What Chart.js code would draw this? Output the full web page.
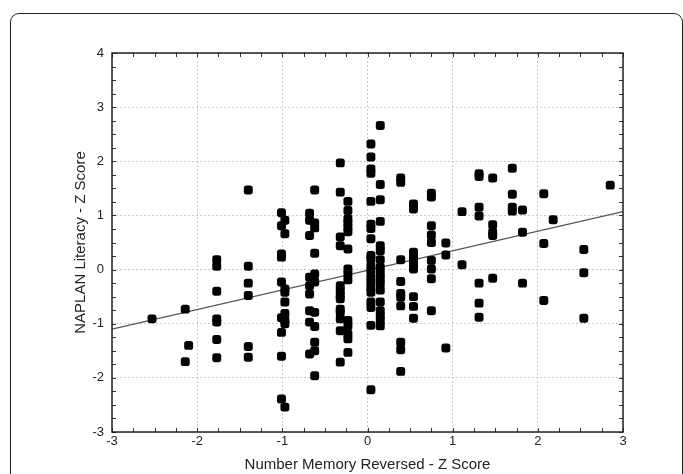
<!DOCTYPE html>
<html>
<head>
<meta charset="utf-8">
<script src="https://cdn.jsdelivr.net/npm/chart.js@4.4.0/dist/chart.umd.min.js"></script>
<style>
  body { margin: 0; background: #fff; }
  #wrap { position: relative; width: 683px; height: 474px; overflow: hidden; }
  #frame { position: absolute; left: 10px; top: 13px; width: 673px; height: 520px;
           border: 1.5px solid #222; border-radius: 9px; box-sizing: border-box; }
  canvas { position: absolute; left: 0; top: 0; }
</style>
</head>
<body>
<div id="wrap">
  <div id="frame"></div>
  <canvas id="scatter" width="683" height="474"></canvas>
</div>
<script>
// values, column by column
const memoryZ = [
  -2.53,
  -2.14, -2.14, -2.10,
  -1.77, -1.77, -1.77, -1.77, -1.77, -1.77, -1.77,
  -1.40, -1.40, -1.40, -1.40, -1.40, -1.40,
  -1.01, -0.97, -1.01, -0.97, -1.01, -1.01, -1.01, -0.97, -0.97, -0.97, -0.97, -1.01, -0.97, -0.97, -1.01, -1.01, -1.01, -0.97,
  -0.62, -0.68, -0.68, -0.62, -0.62, -0.68, -0.62, -0.68, -0.62, -0.62, -0.68, -0.68, -0.68, -0.62, -0.68, -0.62, -0.62, -0.62, -0.68, -0.62,
  -0.32, -0.32, -0.23, -0.23, -0.23, -0.23, -0.23, -0.23, -0.32, -0.32, -0.23, -0.23, -0.23, -0.23, -0.32, -0.32, -0.32, -0.32, -0.32, -0.32, -0.32, -0.23, -0.23, -0.32, -0.23, -0.23, -0.23, -0.32,
  0.15, 0.04, 0.04, 0.04, 0.04, 0.15, 0.15, 0.04, 0.15, 0.04, 0.04, 0.04, 0.15, 0.15, 0.04, 0.04, 0.15, 0.04, 0.15, 0.04, 0.15, 0.04, 0.15, 0.04, 0.15, 0.04, 0.15, 0.04, 0.04, 0.15, 0.04, 0.15, 0.15, 0.15, 0.15, 0.04, 0.04,
  0.39, 0.39, 0.39, 0.39, 0.39, 0.39, 0.39, 0.39, 0.39, 0.39,
  0.54, 0.54, 0.54, 0.54, 0.54, 0.54, 0.54, 0.54, 0.54, 0.54,
  0.75, 0.75, 0.75, 0.75, 0.75, 0.75, 0.75, 0.75, 0.75,
  0.92, 0.92, 0.92,
  1.11, 1.11,
  1.31, 1.31, 1.31, 1.31, 1.31, 1.31, 1.31,
  1.47, 1.47, 1.47, 1.47, 1.47,
  1.70, 1.70, 1.70, 1.70,
  1.82, 1.82, 1.82,
  2.07, 2.07, 2.07,
  2.18,
  2.54, 2.54, 2.54,
  2.85
];
const literacyZ = [
  -0.91,
  -0.73, -1.70, -1.40,
  0.18, 0.06, -0.40, -0.91, -0.97, -1.29, -1.63,
  1.47, 0.06, -0.25, -0.48, -1.42, -1.62,
  1.05, 0.91, 0.81, 0.66, 0.29, 0.23, -0.23, -0.36, -0.42, -0.60, -0.81, -0.89, -0.94, -1.00, -1.16, -1.60, -2.39, -2.54,
  1.47, 1.04, 0.91, 0.86, 0.77, 0.63, 0.30, -0.14, -0.08, -0.23, -0.30, -0.45, -0.76, -0.79, -0.97, -1.05, -1.34, -1.50, -1.56, -1.96,
  1.97, 1.43, 1.26, 1.09, 0.94, 0.86, 0.78, 0.70, 0.60, 0.44, 0.38, 0.01, -0.08, -0.19, -0.30, -0.39, -0.48, -0.54, -0.73, -0.79, -0.91, -0.94, -1.04, -1.13, -1.19, -1.28, -1.53, -1.71,
  2.66, 2.32, 2.08, 1.86, 1.78, 1.57, 1.29, 1.26, 0.89, 0.84, 0.76, 0.57, 0.44, 0.35, 0.26, 0.20, 0.18, 0.07, 0.04, -0.02, -0.07, -0.14, -0.17, -0.23, -0.26, -0.33, -0.38, -0.42, -0.60, -0.60, -0.70, -0.76, -0.85, -0.94, -1.04, -1.03, -2.22,
  1.69, 1.61, 0.18, -0.22, -0.44, -0.51, -0.67, -1.34, -1.48, -1.88,
  1.21, 1.12, 0.32, 0.24, 0.17, 0.07, 0.01, -0.50, -0.68, -0.90,
  1.41, 1.34, 0.81, 0.64, 0.50, 0.17, 0.01, -0.17, -0.76,
  0.49, 0.27, -1.45,
  0.09, 1.07,
  1.77, 1.72, 1.15, 0.99, -0.25, -0.62, -0.88,
  1.69, 0.83, 0.69, 0.63, -0.16,
  1.87, 1.39, 1.15, 1.08,
  1.10, 0.69, -0.25,
  1.40, 0.48, -0.57,
  0.92,
  0.37, -0.06, -0.90,
  1.56
];
// fitted line, end points read at the plot edges
const fitX = [-3, 3];
const fitY = [-1.10, 1.07];

const xMin = -3, xMax = 3, yMin = -3, yMax = 4;

const points = memoryZ.map((v, i) => ({ x: v, y: literacyZ[i] }));
const fitLine = fitX.map((v, i) => ({ x: v, y: fitY[i] }));

const fontFam = "'Liberation Sans', Arial, sans-serif";

// inward minor ticks on all four sides + plot frame
const frameTicks = {
  id: 'frameTicks',
  afterDatasetsDraw(chart) {
    const { ctx, chartArea: a, scales: { x, y } } = chart;
    ctx.save();
    ctx.strokeStyle = '#333';
    ctx.lineWidth = 1;
    ctx.beginPath();
    for (let v = xMin; v <= xMax + 1e-9; v += 0.25) {
      const px = Math.round(x.getPixelForValue(v)) + 0.5;
      ctx.moveTo(px, a.top); ctx.lineTo(px, a.top + 4);
      ctx.moveTo(px, a.bottom); ctx.lineTo(px, a.bottom - 4);
    }
    for (let v = yMin; v <= yMax + 1e-9; v += 0.25) {
      const py = Math.round(y.getPixelForValue(v)) + 0.5;
      ctx.moveTo(a.left, py); ctx.lineTo(a.left + 4, py);
      ctx.moveTo(a.right, py); ctx.lineTo(a.right - 4, py);
    }
    ctx.stroke();
    ctx.lineWidth = 1.5;
    ctx.strokeStyle = '#222';
    ctx.strokeRect(a.left, a.top, a.right - a.left, a.bottom - a.top);
    ctx.restore();
  }
};

new Chart(document.getElementById('scatter').getContext('2d'), {
  type: 'scatter',
  data: {
    datasets: [
      {
        type: 'line',
        data: fitLine,
        borderColor: '#555',
        borderWidth: 1.3,
        pointRadius: 0,
        fill: false,
        order: 2
      },
      {
        data: points,
        pointStyle: 'rectRounded',
        pointRadius: 5.2,
        backgroundColor: '#000',
        borderColor: '#000',
        borderWidth: 0,
        order: 1
      }
    ]
  },
  options: {
    responsive: false,
    animation: false,
    layout: { padding: { left: 72, right: 60, top: 53, bottom: 0 } },
    plugins: { legend: { display: false }, tooltip: { enabled: false } },
    scales: {
      x: {
        type: 'linear', min: xMin, max: xMax,
        afterFit: s => { s.height = 42; },
        grid: { color: '#c8c8c8', lineWidth: 1, drawTicks: false },
        border: { display: false, dash: [2, 2] },
        ticks: { stepSize: 1, padding: 2, color: '#222', font: { family: fontFam, size: 13 } },
        title: { display: true, text: 'Number Memory Reversed - Z Score', color: '#222',
                 padding: { top: 0, bottom: 0 }, font: { family: fontFam, size: 15 } }
      },
      y: {
        type: 'linear', min: yMin, max: yMax,
        afterFit: s => { s.width = 40; },
        grid: { color: '#c8c8c8', lineWidth: 1, drawTicks: false },
        border: { display: false, dash: [2, 2] },
        ticks: { stepSize: 1, padding: 8, color: '#222', font: { family: fontFam, size: 13 } },
        title: { display: true, text: 'NAPLAN Literacy - Z Score', color: '#222',
                 padding: { top: 0, bottom: 0 }, font: { family: fontFam, size: 15 } }
      }
    }
  },
  plugins: [frameTicks]
});
</script>
</body>
</html>
